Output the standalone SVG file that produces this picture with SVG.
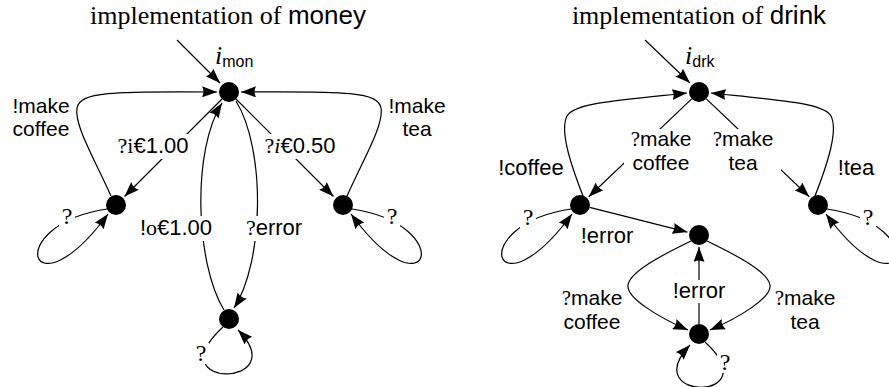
<svg xmlns="http://www.w3.org/2000/svg" width="889" height="387" viewBox="0 0 889 387">
  <style>
    .st { fill: #000; }
    .ed { fill: none; stroke: #000; stroke-width: 1.2; marker-end: url(#ah); }
    .bg { fill: #fff; }
    text { fill: #000; }
    .lb { font-family: "Liberation Sans", Arial, sans-serif; font-size: 22px; text-anchor: middle; }
    .l2 { font-family: "Liberation Sans", Arial, sans-serif; font-size: 21px; text-anchor: middle; }
    .tt { font-family: "Liberation Sans", Arial, sans-serif; font-size: 26px; text-anchor: middle; }
    .rm { font-family: "Liberation Serif", "Times New Roman", serif; }
    .q { font-family: "Liberation Serif", "Times New Roman", serif; font-size: 24px; text-anchor: middle; }
    .iv { font-family: "Liberation Serif", "Times New Roman", serif; font-style: italic; font-size: 26px; }
    .sub { font-family: "Liberation Sans", Arial, sans-serif; font-size: 16px; }
  </style>
  <defs>
    <marker id="ah" viewBox="0 0 15 11" markerUnits="userSpaceOnUse" markerWidth="15" markerHeight="11" refX="15" refY="5.5" orient="auto">
      <path d="M0,0 L15,5.5 L0,11 Q3,5.5 0,0 z" fill="#000"/>
    </marker>
  </defs>

  <!-- titles -->
  <text class="tt" x="228" y="24"><tspan class="rm">implementation of </tspan>money</text>
  <text class="tt" x="699" y="24"><tspan class="rm">implementation of </tspan>drink</text>

  <!-- ===== money implementation ===== -->
  <g id="money-edges">
    <!-- initial -->
    <path class="ed" d="M177,40 L220,83"/>
    <!-- ?i€1.00 -->
    <path class="ed" d="M222,99 L124.5,196.5"/>
    <!-- ?i€0.50 -->
    <path class="ed" d="M236,99 L333.5,196.5"/>
    <!-- !make coffee -->
    <path class="ed" d="M111,196 C95,160 74,125 77,108 C80,92 110,91 217,92"/>
    <!-- !make tea -->
    <path class="ed" d="M347,196 C363,160 384,125 381,108 C378,92 348,91 241,92"/>
    <!-- !o€1.00 -->
    <path class="ed" d="M224,310 C195,262 192,150 222,103"/>
    <!-- ?error -->
    <path class="ed" d="M236,101 C266,150 264,262 234,308"/>
    <!-- self loops -->
    <path class="ed" d="M107,209 C0,225 30,320 108,214"/>
    <path class="ed" d="M352,209 C459,225 429,320 351,214"/>
    <path class="ed" d="M223,327 C155,390 295,388 238,330"/>
  </g>
  <g id="money-labels">
    <rect class="bg" x="112" y="134" width="82" height="25"/>
    <text class="lb" x="153" y="153"><tspan class="rm">?i</tspan>€1.00</text>
    <rect class="bg" x="259" y="134" width="82" height="25"/>
    <text class="lb" x="300" y="153"><tspan class="rm">?</tspan><tspan class="rm" font-style="italic">i</tspan>€0.50</text>
    <rect class="bg" x="134" y="216" width="84" height="25"/>
    <text class="lb" x="176" y="235">!<tspan class="rm">o</tspan>€1.00</text>
    <rect class="bg" x="241" y="216" width="66" height="25"/>
    <text class="lb" x="274" y="235"><tspan class="rm">?</tspan>error</text>
    <text class="l2" x="41" y="112.5">!make<tspan x="41" dy="23.5">coffee</tspan></text>
    <text class="l2" x="417" y="112.5">!make<tspan x="417" dy="23.5">tea</tspan></text>
    <rect class="bg" x="59" y="206" width="16" height="21"/>
    <text class="q" x="67" y="224">?</text>
    <rect class="bg" x="384" y="206" width="16" height="21"/>
    <text class="q" x="392" y="224">?</text>
    <rect class="bg" x="193" y="343" width="16" height="21"/>
    <text class="q" x="201" y="361">?</text>
  </g>
  <g id="m-init">
    <circle class="st" cx="229" cy="92" r="10"/>
    <text x="215" y="64"><tspan class="iv">i</tspan><tspan class="sub" dy="3">mon</tspan></text>
  </g>
  <g id="m-coffee"><circle class="st" cx="116" cy="205" r="10"/></g>
  <g id="m-tea"><circle class="st" cx="343" cy="205" r="10"/></g>
  <g id="m-error"><circle class="st" cx="229" cy="319" r="10"/></g>

  <!-- ===== drink implementation ===== -->
  <g id="drink-edges">
    <path class="ed" d="M645,40 L690,83"/>
    <!-- ?make coffee -->
    <path class="ed" d="M691.7,98.9 L588.7,196.7"/>
    <!-- ?make tea -->
    <path class="ed" d="M706.3,98.9 L809.3,196.7"/>
    <!-- !coffee -->
    <path class="ed" d="M583,196 C569,160 560,130 567,116 C574,103 620,100 687,93"/>
    <!-- !tea -->
    <path class="ed" d="M815,196 C829,160 838,130 831,116 C824,103 778,100 711,93"/>
    <!-- !error to the error state -->
    <path class="ed" d="M589.7,207.4 L687.4,232.1"/>
    <!-- !error back up -->
    <path class="ed" d="M699,324 L699,247"/>
    <!-- ?make coffee / ?make tea down -->
    <path class="ed" d="M691,241 C660,256 630,272 628,285 C626,298 660,318 688,330"/>
    <path class="ed" d="M707,241 C738,256 768,272 770,285 C772,298 738,318 710,330"/>
    <!-- self loops -->
    <path class="ed" d="M571,209 C464,225 494,320 572,214"/>
    <path class="ed" d="M827,209 C934,225 904,320 826,214"/>
    <path class="ed" d="M705,342 C770,402 636,402 690,345"/>
  </g>
  <g id="drink-labels">
    <rect class="bg" x="624" y="129" width="74" height="45"/>
    <text class="l2" x="661" y="146"><tspan class="rm">?</tspan>make<tspan x="661" dy="23.5">coffee</tspan></text>
    <rect class="bg" x="707" y="129" width="74" height="45"/>
    <text class="l2" x="743" y="146"><tspan class="rm">?</tspan>make<tspan x="743" dy="23.5">tea</tspan></text>
    <text class="lb" x="531" y="175">!coffee</text>
    <text class="lb" x="856" y="175">!tea</text>
    <text class="lb" x="607" y="243">!error</text>
    <rect class="bg" x="669" y="280" width="60" height="23"/>
    <text class="lb" x="699" y="298">!error</text>
    <text class="l2" x="592" y="305"><tspan class="rm">?</tspan>make<tspan x="592" dy="23.5">coffee</tspan></text>
    <text class="l2" x="805" y="305"><tspan class="rm">?</tspan>make<tspan x="805" dy="23.5">tea</tspan></text>
    <rect class="bg" x="520" y="207" width="16" height="21"/>
    <text class="q" x="528" y="225">?</text>
    <rect class="bg" x="860" y="207" width="16" height="21"/>
    <text class="q" x="868" y="225">?</text>
    <rect class="bg" x="717" y="352" width="16" height="21"/>
    <text class="q" x="725" y="370">?</text>
  </g>
  <g id="d-init">
    <circle class="st" cx="699" cy="92" r="10"/>
    <text x="685" y="64"><tspan class="iv">i</tspan><tspan class="sub" dy="3">drk</tspan></text>
  </g>
  <g id="d-coffee"><circle class="st" cx="580" cy="205" r="10"/></g>
  <g id="d-tea"><circle class="st" cx="818" cy="205" r="10"/></g>
  <g id="d-error"><circle class="st" cx="699" cy="235" r="10"/></g>
  <g id="d-serve"><circle class="st" cx="699" cy="334" r="10"/></g>
</svg>
